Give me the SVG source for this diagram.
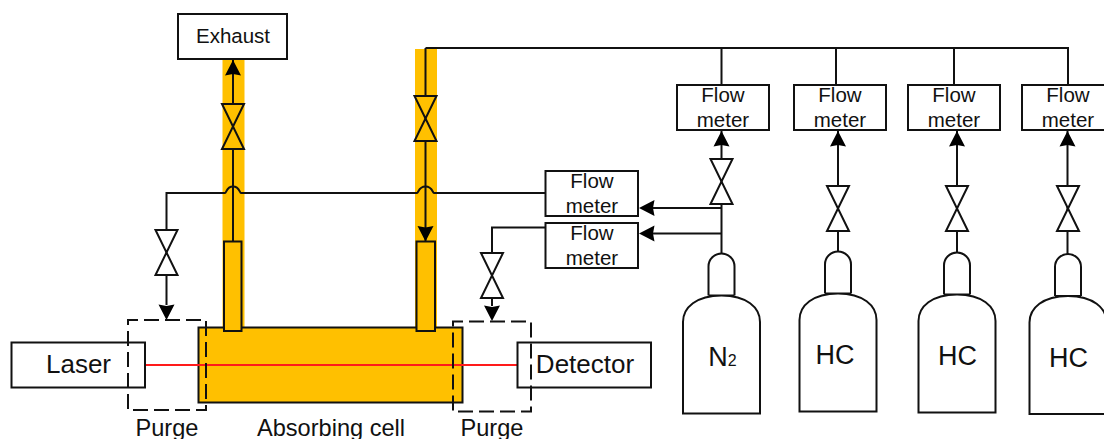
<svg xmlns="http://www.w3.org/2000/svg" xmlns:xlink="http://www.w3.org/1999/xlink" width="1104" height="439" viewBox="0 0 1104 439">
<style>
text{font-family:"Liberation Sans",Arial,sans-serif;fill:#111;text-anchor:middle}
.ln{fill:none;stroke:#111;stroke-width:2}
.box{fill:#fff;stroke:#111;stroke-width:2}
.org{fill:#ffc000;stroke:#111;stroke-width:2}
.band{fill:#ffc000}
.dash{fill:none;stroke:#111;stroke-width:2;stroke-dasharray:15 6;stroke-dashoffset:5}
.fm{font-size:20.500px}
.gas{font-size:27px}
.lab{font-size:23.600px}
.cyl{fill:#fff;stroke:#111;stroke-width:2}
</style>
<defs>
<path id="valve-o" d="M-11 -22.500H11L-11 22.500H11Z" fill="#ffc000" stroke="#111" stroke-width="2"/>
<path id="ah-up" d="M0 0L8 15.500L0 14L-8 15.500Z" fill="#000"/>
<path id="ah-down" d="M0 0L8 -15.500L0 -14L-8 -15.500Z" fill="#000"/>
<path id="ah-left" d="M0 0L15.500 -8L14 0L15.500 8Z" fill="#000"/>
<path id="cylinder" class="cyl" d="M-13 42V13A13 13 0 0 1 13 13V42M-13 42H13M-38.500 68.500C-38.500 54 -25 42 0 42C25 42 38.500 54 38.500 68.500V160H-38.500Z"/>
</defs>

<rect class="band" x="222.500" y="59" width="22" height="270"/>
<rect class="band" x="415" y="49" width="22" height="280"/>

<g id="connectors">
<path class="ln" d="M233 59V241"/>
<path class="ln" d="M425.500 48H1068V85M721.500 48V85M836 48V85M954 48V85M425.500 48V241"/>
<path class="ln" d="M545 193H434C432.500 193 432.500 186.500 425.500 186.500C418.500 186.500 418.500 193 417 193H241C239.500 193 239.500 186.500 233 186.500C226.500 186.500 226.500 193 225 193H166.500V305"/>
<path class="ln" d="M545 227.500H492V306"/>
<path class="ln" d="M721.500 130V254M722 208H650M722 233.500H650"/>
<path class="ln" d="M838 130V251M957 130V252M1067.500 130V254"/>
<use xlink:href="#ah-up" href="#ah-up" x="233" y="60"/>
<use xlink:href="#ah-down" href="#ah-down" x="425.500" y="241.500"/>
<use xlink:href="#ah-down" href="#ah-down" x="166.500" y="320"/>
<use xlink:href="#ah-down" href="#ah-down" x="492" y="321"/>
<use xlink:href="#ah-left" href="#ah-left" x="639" y="208"/>
<use xlink:href="#ah-left" href="#ah-left" x="639" y="233.500"/>
<use xlink:href="#ah-up" href="#ah-up" x="721.500" y="131"/>
<use xlink:href="#ah-up" href="#ah-up" x="838" y="131"/>
<use xlink:href="#ah-up" href="#ah-up" x="957" y="131"/>
<use xlink:href="#ah-up" href="#ah-up" x="1067.500" y="131"/>
</g>

<g id="valves">
<use xlink:href="#valve-o" href="#valve-o" x="233" y="126.500"/>
<use xlink:href="#valve-o" href="#valve-o" x="425.500" y="118.500"/>
<path d="M155.500 230H177.500L155.500 275H177.500Z" fill="#fff" stroke="#111" stroke-width="2"/>
<path d="M481 253H503L481 298H503Z" fill="#fff" stroke="#111" stroke-width="2"/>
<path d="M710.500 159H732.500L710.500 204H732.500Z" fill="#fff" stroke="#111" stroke-width="2"/>
<path d="M827 186H849L827 231H849Z" fill="#fff" stroke="#111" stroke-width="2"/>
<path d="M946 186H968L946 231H968Z" fill="#fff" stroke="#111" stroke-width="2"/>
<path d="M1057 186H1079L1057 231H1079Z" fill="#fff" stroke="#111" stroke-width="2"/>
</g>

<g id="exhaust"><rect class="box" x="178" y="14" width="109" height="45"/><text x="233" y="43" font-size="20.500px">Exhaust</text></g>

<g id="absorbing-cell">
<rect class="org" x="198.500" y="327.500" width="264" height="75"/>
<rect class="org" x="224" y="241.500" width="17.500" height="89.500"/>
<rect class="org" x="416.500" y="241.500" width="18.500" height="89.500"/>
<text class="lab" x="331" y="436">Absorbing cell</text>
</g>
<path d="M145 365H518" fill="none" stroke="#ff1a1a" stroke-width="2.200"/>

<g id="laser"><rect x="11.500" y="342.500" width="133.500" height="45" fill="none" stroke="#111" stroke-width="2"/><text x="78.500" y="373" font-size="26px">Laser</text></g>
<g id="detector"><rect x="517.500" y="342.500" width="133.500" height="45" fill="none" stroke="#111" stroke-width="2"/><text x="585" y="373" font-size="26px">Detector</text></g>

<g id="purge-left"><rect class="dash" x="128" y="320" width="78" height="90"/><text class="lab" x="167" y="436">Purge</text></g>
<g id="purge-right"><rect class="dash" x="453" y="321.500" width="78" height="90"/><text class="lab" x="492" y="436">Purge</text></g>

<g id="fm-purge-1"><rect class="box" x="545.500" y="171" width="92.500" height="45"/><text class="fm" x="592" y="188">Flow</text><text class="fm" x="592" y="213">meter</text></g>
<g id="fm-purge-2"><rect class="box" x="545.500" y="223" width="92.500" height="45"/><text class="fm" x="592" y="240">Flow</text><text class="fm" x="592" y="265">meter</text></g>
<g id="fm-n2"><rect class="box" x="677" y="85" width="92" height="45"/><text class="fm" x="723" y="102">Flow</text><text class="fm" x="723" y="127">meter</text></g>
<g id="fm-hc1"><rect class="box" x="794" y="85" width="92" height="45"/><text class="fm" x="840" y="102">Flow</text><text class="fm" x="840" y="127">meter</text></g>
<g id="fm-hc2"><rect class="box" x="908" y="85" width="92" height="45"/><text class="fm" x="954" y="102">Flow</text><text class="fm" x="954" y="127">meter</text></g>
<g id="fm-hc3"><rect class="box" x="1022" y="85" width="92" height="45"/><text class="fm" x="1068" y="102">Flow</text><text class="fm" x="1068" y="127">meter</text></g>

<g id="cyl-n2"><use xlink:href="#cylinder" href="#cylinder" x="721.500" y="253.500"/><text class="gas" x="722.500" y="366">N<tspan font-size="16px">2</tspan></text></g>
<g id="cyl-hc1"><use xlink:href="#cylinder" href="#cylinder" x="838" y="251.500"/><text class="gas" x="835" y="364">HC</text></g>
<g id="cyl-hc2"><use xlink:href="#cylinder" href="#cylinder" x="957" y="252.500"/><text class="gas" x="957.500" y="365">HC</text></g>
<g id="cyl-hc3"><use xlink:href="#cylinder" href="#cylinder" x="1068" y="254"/><text class="gas" x="1068.500" y="367">HC</text></g>
</svg>
